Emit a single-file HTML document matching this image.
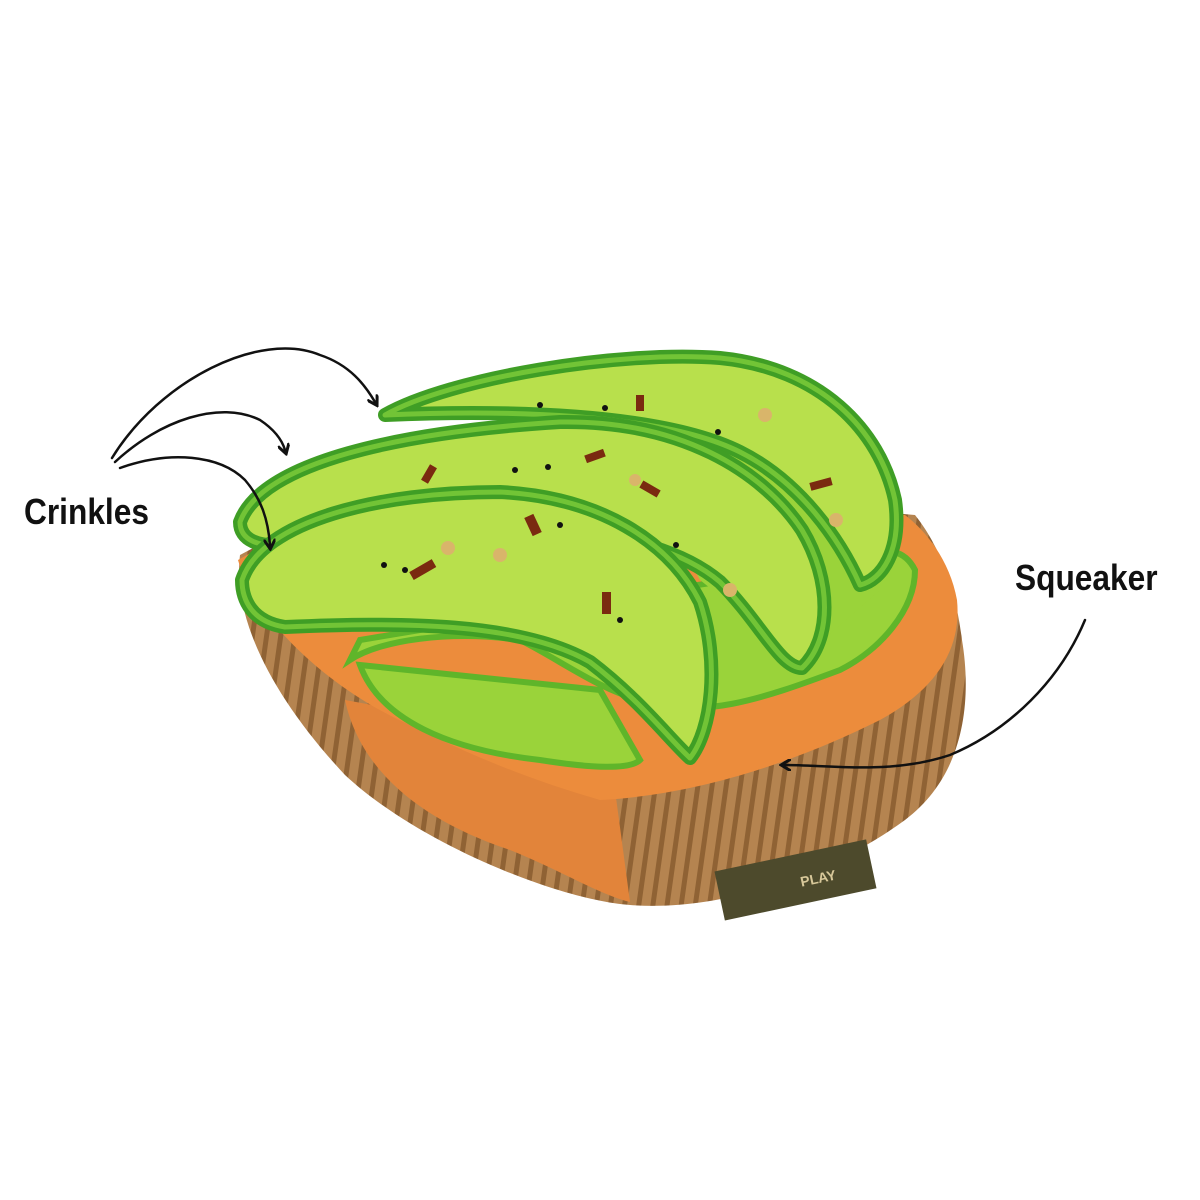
<!DOCTYPE html>
<html><head><meta charset="utf-8"><style>
html,body{margin:0;padding:0;background:#fff;width:1200px;height:1200px;overflow:hidden}
svg{display:block}
.lbl{font-family:"Liberation Sans",sans-serif;font-weight:bold;font-size:36px;fill:#111}
</style></head><body>
<svg width="1200" height="1200" viewBox="0 0 1200 1200">
<defs>
<marker id="ah" markerWidth="12" markerHeight="12" refX="6" refY="6" orient="auto" markerUnits="userSpaceOnUse"><path d="M0,0 L10,6 L0,12" fill="none" stroke="#111" stroke-width="3"/></marker>
<pattern id="cord" width="14" height="20" patternUnits="userSpaceOnUse" patternTransform="rotate(8)"><rect width="14" height="20" fill="#b58450"/><rect width="5" height="20" fill="#8f6234"/></pattern>
</defs>
<path d="M240,555 C232,620 275,700 345,775 C420,845 560,900 630,905 C720,912 830,875 905,820 C965,775 972,700 962,640 C955,580 935,540 915,515 L400,470 Z" fill="url(#cord)"/>
<path d="M345,700 C360,770 420,820 510,850 C560,870 600,895 630,902 L615,790 C560,770 470,740 400,710 Z" fill="#e2843a"/>
<path d="M238,560 C255,620 330,690 410,725 C470,755 530,780 600,800 C700,795 800,760 880,720 C935,690 962,650 957,600 C950,560 925,530 905,515 L400,470 Z" fill="#ec8c3c"/>
<path d="M350,660 C380,640 450,630 520,640 C560,660 600,690 640,700 C700,720 760,700 840,670 C880,650 915,610 915,570 C905,550 885,545 860,560 L600,600 L360,640 Z" fill="#9ad33a" stroke="#5fb52a" stroke-width="6"/>
<path d="M360,665 C380,720 450,750 540,760 C590,768 630,770 640,760 L600,690 Z" fill="#9ad33a" stroke="#5fb52a" stroke-width="6"/>
<path d="M600,400 L880,470 L880,590 L800,660 L700,580 Z" fill="#9ad33a"/>
<g stroke-linejoin="round">
<path d="M385,415 C450,378 620,350 720,358 C820,368 880,430 895,500 C902,550 882,580 860,585 C840,540 800,482 740,452 C660,412 500,410 385,415 Z" fill="#b8e04c" stroke="#3f9e25" stroke-width="14"/>
<path d="M385,415 C450,378 620,350 720,358 C820,368 880,430 895,500 C902,550 882,580 860,585 C840,540 800,482 740,452 C660,412 500,410 385,415 Z" fill="none" stroke="#72c436" stroke-width="5"/>
<path d="M240,522 C262,462 400,432 560,422 C680,420 762,470 802,530 C832,580 832,640 802,668 C780,668 760,622 720,582 C650,522 480,512 290,545 C258,548 240,540 240,522 Z" fill="#b8e04c" stroke="#3f9e25" stroke-width="14"/>
<path d="M240,522 C262,462 400,432 560,422 C680,420 762,470 802,530 C832,580 832,640 802,668 C780,668 760,622 720,582 C650,522 480,512 290,545 C258,548 240,540 240,522 Z" fill="none" stroke="#72c436" stroke-width="5"/>
<path d="M242,580 C262,520 380,492 500,492 C600,497 670,542 700,602 C720,662 712,730 690,758 C670,740 640,700 590,662 C520,622 400,622 285,627 C252,622 242,600 242,580 Z" fill="#b8e04c" stroke="#3f9e25" stroke-width="14"/>
<path d="M242,580 C262,520 380,492 500,492 C600,497 670,542 700,602 C720,662 712,730 690,758 C670,740 640,700 590,662 C520,622 400,622 285,627 C252,622 242,600 242,580 Z" fill="none" stroke="#72c436" stroke-width="5"/>
</g>
<g fill="#7a2a10">
<rect x="425" y="465" width="8" height="18" transform="rotate(30 429 474)"/>
<rect x="585" y="452" width="20" height="8" transform="rotate(-20 595 456)"/>
<rect x="636" y="395" width="8" height="16"/>
<rect x="810" y="480" width="22" height="8" transform="rotate(-15 821 484)"/>
<rect x="528" y="515" width="10" height="20" transform="rotate(-25 533 525)"/>
<rect x="410" y="565" width="26" height="9" transform="rotate(-30 423 570)"/>
<rect x="602" y="592" width="9" height="22"/>
<rect x="640" y="485" width="20" height="8" transform="rotate(30 650 489)"/>
</g>
<g fill="#111"><circle cx="540" cy="405" r="3"/><circle cx="605" cy="408" r="3"/><circle cx="548" cy="467" r="3"/><circle cx="515" cy="470" r="3"/><circle cx="718" cy="432" r="3"/><circle cx="560" cy="525" r="3"/><circle cx="405" cy="570" r="3"/><circle cx="384" cy="565" r="3"/><circle cx="620" cy="620" r="3"/><circle cx="676" cy="545" r="3"/></g>
<g fill="#d9b56a"><circle cx="765" cy="415" r="7"/><circle cx="836" cy="520" r="7"/><circle cx="448" cy="548" r="7"/><circle cx="500" cy="555" r="7"/><circle cx="730" cy="590" r="7"/><circle cx="635" cy="480" r="6"/></g>
<g transform="rotate(-12 795 880)"><rect x="718" y="855" width="155" height="50" fill="#4d4a2c"/><text x="800" y="888" font-family="Liberation Sans,sans-serif" font-size="14" font-weight="bold" fill="#d8c89a">PLAY</text></g>
<g fill="none" stroke="#111" stroke-width="2.5" stroke-linecap="round">
<path d="M112,458 C160,380 260,330 320,355 C350,365 365,385 375,402" marker-end="url(#ah)"/>
<path d="M115,462 C160,420 220,400 260,420 C275,430 282,440 285,450" marker-end="url(#ah)"/>
<path d="M120,468 C170,450 220,455 245,480 C262,500 268,520 270,545" marker-end="url(#ah)"/>
<path d="M1085,620 C1060,680 1010,730 950,755 C890,775 830,765 785,765" marker-end="url(#ah)"/>
</g>
<text class="lbl" x="24" y="524" transform="scale(0.88 1)" transform-origin="24 524">Crinkles</text>
<text class="lbl" x="1015" y="590" transform="scale(0.88 1)" transform-origin="1015 590">Squeaker</text>
</svg>
</body></html>
